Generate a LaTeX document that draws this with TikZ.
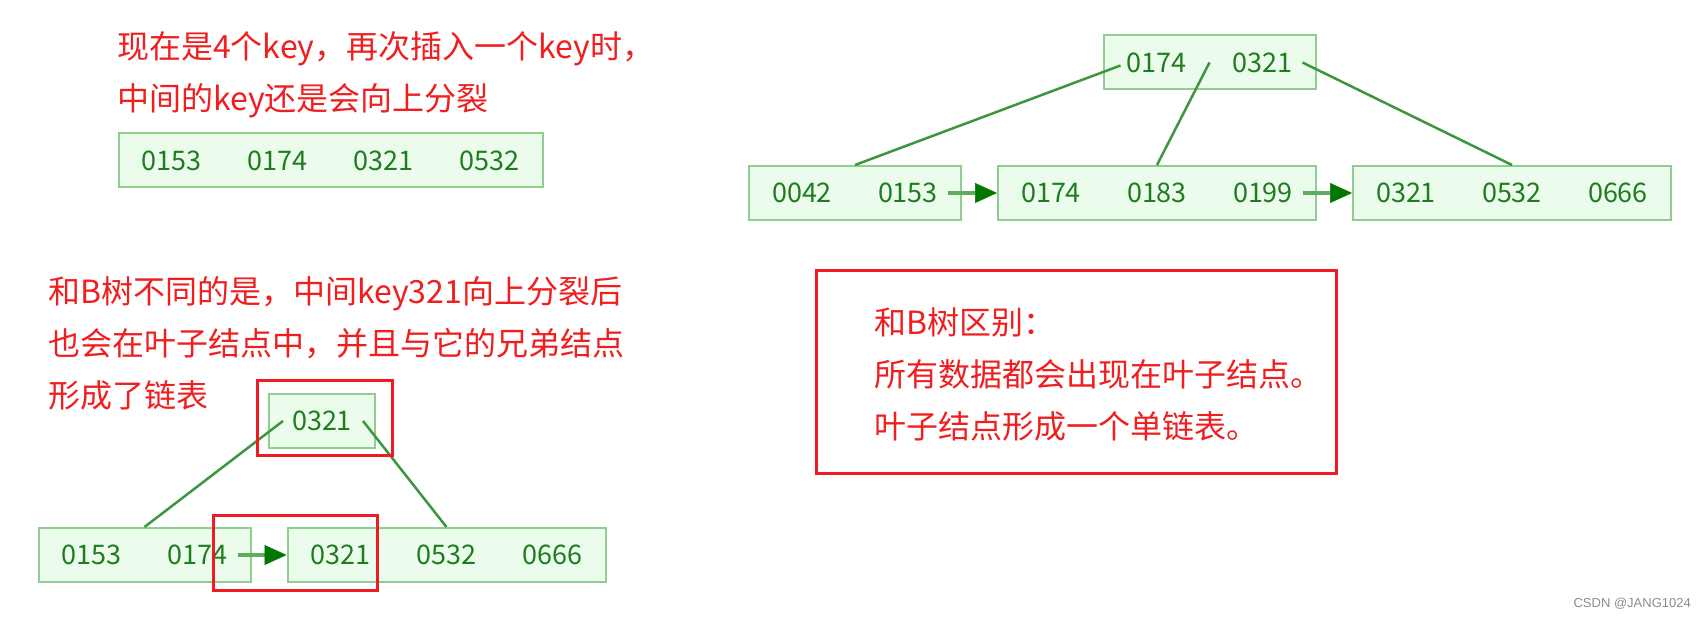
\documentclass[tikz,border=0pt]{standalone}
\usepackage{fontspec}
\setmainfont{Noto Sans CJK SC}
\newfontfamily\marcafont{Liberation Sans}
\usetikzlibrary{positioning,arrows.meta}

\definecolor{verdeborde}{RGB}{145,205,145}
\definecolor{verdefondo}{RGB}{236,252,236}
\definecolor{verdetexto}{RGB}{30,125,30}
\definecolor{verderama}{RGB}{60,150,60}
\definecolor{verdetallo}{RGB}{95,172,95}
\definecolor{verdeflecha}{RGB}{0,120,0}
\definecolor{rojo}{RGB}{237,28,36}
\definecolor{rojotexto}{RGB}{240,30,30}

\newcommand{\kc}[1]{\makebox[106pt]{#1}}

\begin{document}
\begin{tikzpicture}[
    x=1pt, y=1pt,
    node distance=35pt,
    nodo/.style={
        draw=verdeborde,
        fill=verdefondo,
        line width=2pt,
        inner sep=0pt,
        minimum height=54pt,
        text=verdetexto,
        font=\fontsize{27}{27}\selectfont
    },
    nota/.style={
        anchor=north west,
        inner sep=0pt,
        align=left,
        text=rojotexto,
        font=\fontsize{32}{52}\selectfont
    },
    rama/.style={draw=verderama, line width=2.5pt},
    enlace/.style={
        draw=verdetallo,
        line width=4.5pt,
        -{Triangle[length=22pt,width=20pt,line width'=0.5pt,color=verdeflecha]}
    },
    marco/.style={draw=rojo, line width=3pt}
]
\useasboundingbox (0,0) rectangle (1706,619);

% arriba a la izquierda
\node[nota] (texto1) at (117,588)
{现在是4个key，再次插入一个key时，\\中间的key还是会向上分裂};

\node[nodo] (cuatro) at (330.5,458.5) {\kc{0153}\kc{0174}\kc{0321}\kc{0532}};

% abajo a la izquierda
\node[nota] (texto2) at (48,343)
{和B树不同的是，中间key321向上分裂后\\也会在叶子结点中，并且与它的兄弟结点\\形成了链表};

\node[nodo] (arriba) at (322,198) {\kc{0321}};
\node[nodo] (hoja1) at (144.5,64) {\kc{0153}\kc{0174}};
\node[nodo, right=of hoja1] (hoja2) {\kc{0321}\kc{0532}\kc{0666}};

\draw[rama] ([xshift=15pt]arriba.west) -- (hoja1.north);
\draw[rama] ([xshift=-13pt]arriba.east) -- (hoja2.north);
\draw[enlace] ([xshift=-14pt]hoja1.east) -- (hoja2.west);

\draw[marco] ([shift={(-11pt,12pt)}]arriba.north west) rectangle ([shift={(16pt,-7pt)}]arriba.south east);
\draw[marco] ([shift={(-73pt,12pt)}]hoja2.north west) rectangle ([shift={(91pt,-7pt)}]hoja2.south west);

% arbol de la derecha
\node[nodo] (raiz) at (1209.5,556.5) {\kc{0174}\kc{0321}};
\node[nodo] (hojaA) at (855,426) {\kc{0042}\kc{0153}};
\node[nodo, right=of hojaA] (hojaB) {\kc{0174}\kc{0183}\kc{0199}};
\node[nodo, right=of hojaB] (hojaC) {\kc{0321}\kc{0532}\kc{0666}};

\draw[rama] ([xshift=18pt,yshift=-3pt]raiz.west) -- (hojaA.north);
\draw[rama] (raiz.center) -- (hojaB.north);
\draw[rama] ([xshift=-14pt]raiz.east) -- (hojaC.north);
\draw[enlace] ([xshift=-14pt]hojaA.east) -- (hojaB.west);
\draw[enlace] ([xshift=-14pt]hojaB.east) -- (hojaC.west);

% diferencia con el arbol B
\node[nota] (texto3) at (874,312)
{和B树区别：\\所有数据都会出现在叶子结点。\\叶子结点形成一个单链表。};
\draw[marco] (816,145) rectangle (1336,348);

\node[anchor=east, inner sep=0pt, text=black!45, font=\marcafont\fontsize{13}{13}\selectfont] (firma) at (1691,15) {CSDN @JANG1024};

\end{tikzpicture}
\end{document}
